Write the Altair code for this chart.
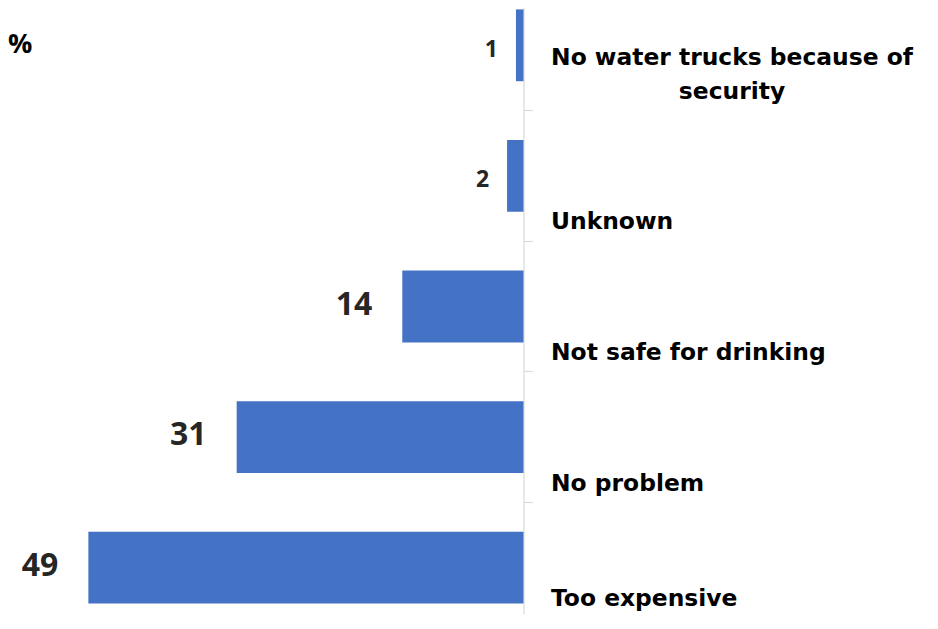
import altair as alt
import pandas as pd

categories = [
    "No water trucks because of\nsecurity",
    "Unknown",
    "Not safe for drinking",
    "No problem",
    "Too expensive",
]
values = [0.85, 1.85, 13.65, 32.3, 49.0]
labels = ["1", "2", "14", "31", "49"]
corner_text = ["%"]

df = pd.DataFrame({"category": categories, "value": values, "label": labels})
corner = pd.DataFrame({"t": corner_text})

yscale = alt.Scale(domain=categories, range=[-28, 625], paddingInner=0, paddingOuter=0)
xscale = alt.Scale(domain=[0, 58.05], reverse=True, nice=False, zero=True)

y_enc = alt.Y(
    "category:N",
    sort=categories,
    scale=yscale,
    axis=alt.Axis(
        orient="right",
        labels=False,
        title=None,
        domainColor="#d9d9d9",
        domainWidth=1.2,
        tickColor="#d9d9d9",
        tickWidth=1.2,
        tickSize=9,
        bandPosition=0,
        grid=False,
    ),
)
y_txt = alt.Y("category:N", sort=categories, scale=yscale)
x_enc = alt.X("value:Q", scale=xscale, axis=None)

base = alt.Chart(df)

bars = base.mark_bar(color="#4472C4", height=alt.RelativeBandSize(0.55)).encode(
    x=x_enc, y=y_enc
)

big_labels = (
    base.transform_filter("datum.value >= 10")
    .mark_text(font="Open Sans", fontWeight="bold", fontSize=32, color="#262626",
               align="right", baseline="alphabetic", dx=-30, dy=8)
    .encode(x=x_enc, y=y_txt, text="label:N")
)
small_labels = (
    base.transform_filter("datum.value < 10")
    .mark_text(font="Open Sans", fontWeight="bold", fontSize=23, color="#262626",
               align="right", baseline="alphabetic", dx=-18, dy=11.5)
    .encode(x=x_enc, y=y_txt, text="label:N")
)

cat_font = dict(font="DejaVu Sans", fontWeight="bold", fontSize=23.4, color="#000000",
                baseline="alphabetic")

cat_mid = (
    base.transform_filter(
        (alt.datum.category != categories[0]) & (alt.datum.category != categories[-1])
    )
    .mark_text(align="left", dy=53.5, **cat_font)
    .encode(x=alt.value(543), y=y_txt, text="category:N")
)
cat_last = (
    base.transform_filter(alt.datum.category == categories[-1])
    .mark_text(align="left", dy=38.5, **cat_font)
    .encode(x=alt.value(543), y=y_txt, text="category:N")
)
cat_multi = (
    base.transform_filter(alt.datum.category == categories[0])
    .mark_text(align="center", dy=20, lineBreak="\n", lineHeight=34, **cat_font)
    .encode(x=alt.value(724), y=y_txt, text="category:N")
)

pct = alt.Chart(corner).mark_text(
    font="Open Sans", fontWeight="bold", fontSize=27, color="#000000",
    align="left", baseline="alphabetic"
).encode(x=alt.value(0), y=alt.value(45), text="t:N")

chart = (
    alt.layer(bars, big_labels, small_labels, cat_mid, cat_last, cat_multi, pct)
    .properties(
        width=515.5,
        height=606,
        background="white",
        autosize=alt.AutoSizeParams(type="none"),
        padding={"left": 0, "top": 0, "right": 400, "bottom": 0},
    )
    .configure_view(strokeWidth=0, stroke="transparent")
)

chart.save("out.html", embed_options={"renderer": "svg", "actions": False})
